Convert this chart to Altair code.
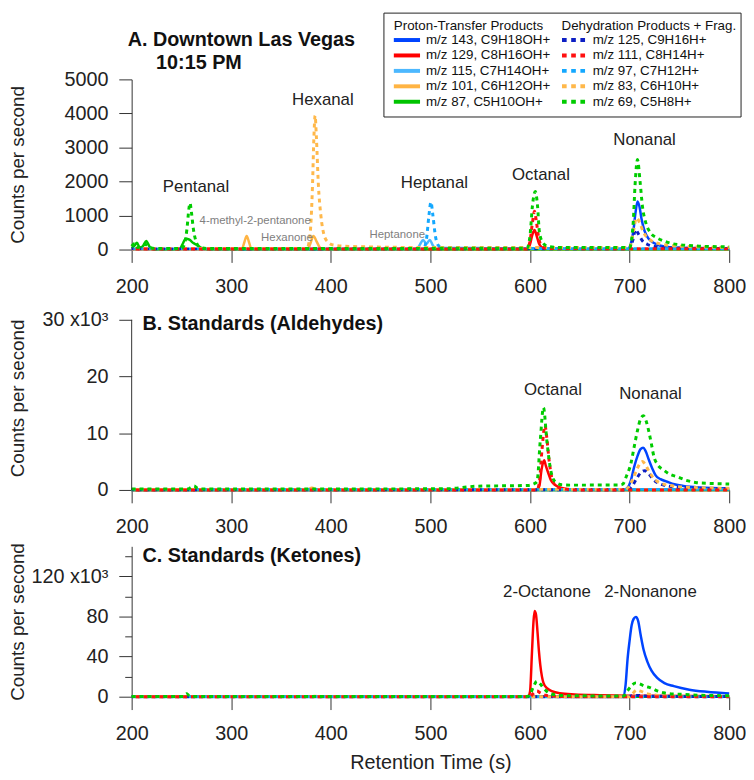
import altair as alt
import pandas as pd

FONT = "Liberation Sans"
AXIS_COLOR = "#333333"
TEXT_COLOR = "#222222"

X_TICKS = [200, 300, 400, 500, 600, 700, 800]
A_Y_TICKS = [0, 1000, 2000, 3000, 4000, 5000]
B_Y_TICKS = [0, 5000, 10000, 15000, 20000, 25000, 30000]
C_Y_TICKS = [0, 20000, 40000, 60000, 80000, 100000, 120000, 140000]

PT_NAMES = ["m/z 143, C9H18OH+", "m/z 129, C8H16OH+", "m/z 115, C7H14OH+",
            "m/z 101, C6H12OH+", "m/z 87, C5H10OH+"]
DH_NAMES = ["m/z 125, C9H16H+", "m/z 111, C8H14H+", "m/z 97, C7H12H+",
            "m/z 83, C6H10H+", "m/z 69, C5H8H+"]
PT_COLORS = ["#0044ff", "#ff0000", "#4cb8ff", "#ffb443", "#00c400"]
DH_COLORS = ["#0d1fc4", "#ff1010", "#14a8ff", "#ffb84a", "#00cc00"]

# ---------------- Panel A: Downtown Las Vegas (counts per second) ----------------
A_MZ143 = [(200, 0), (698, 0), (701, 150), (704, 600), (706, 1100), (708, 1415), (710, 1250),
           (712, 900), (715, 550), (719, 320), (724, 200), (730, 120), (740, 70), (760, 40), (800, 20)]
A_MZ129 = [(200, 0), (597, 0), (600, 150), (602.5, 450), (604.5, 572), (606.5, 420), (609, 180),
           (612, 60), (616, 10), (800, 0)]
A_MZ115 = [(200, 0), (486, 0), (489.5, 150), (492.7, 282), (496, 170), (499.3, 282), (502.5, 120),
           (506, 0), (800, 0)]
A_MZ101 = [(200, 0), (310.5, 0), (313, 200), (315.5, 397), (318, 200), (320.5, 0), (376.5, 0),
           (379.5, 180), (382.5, 397), (385.5, 250), (389, 60), (393, 0), (800, 0)]
A_MZ87 = [(200, 40), (203, 120), (205.3, 203), (208, 60), (211, 90), (214.6, 252), (218, 80),
          (222, 10), (248, 10), (251, 150), (254.3, 320), (258, 290), (262, 190), (265.9, 125),
          (270, 50), (276, 10), (800, 10)]
A_MZ125 = [(200, 20), (699, 20), (703, 250), (706, 590), (709, 450), (713, 250), (718, 150),
           (725, 90), (740, 50), (800, 30)]
A_MZ111 = [(200, 15), (597, 15), (600, 250), (602.5, 800), (604.5, 1124), (606.5, 800), (609, 300),
           (612, 100), (616, 30), (800, 20)]
A_MZ97 = [(200, 20), (493, 20), (496, 300), (498.5, 1000), (500.5, 1395), (502.5, 1000), (505, 400),
          (508, 120), (512, 40), (800, 20)]
A_MZ83 = [(200, 30), (376, 30), (379, 400), (381.5, 1800), (383, 3300), (384.2, 3934), (385.5, 3300),
          (387.5, 1900), (390, 1000), (393, 450), (397, 220), (403, 130), (420, 90), (500, 60),
          (700, 60), (703, 400), (707, 930), (710, 800), (714, 500), (720, 300), (730, 170),
          (750, 100), (800, 60)]
A_MZ69 = [(200, 100), (203, 180), (206, 60), (210, 100), (214, 150), (218, 60), (225, 30), (250, 30),
          (253, 150), (255.5, 600), (257.5, 1200), (258.6, 1366), (260, 1100), (262, 600),
          (264.5, 250), (268, 80), (275, 30), (597, 40), (600, 400), (602.5, 1300), (605.3, 1706),
          (607.5, 1300), (609.5, 500), (613, 200), (618, 90), (630, 60), (700, 60), (703.6, 785),
          (705.5, 1900), (707.9, 2645), (710.5, 2000), (712.9, 1270), (716.3, 785), (721, 494),
          (727, 350), (734.4, 252), (742, 180), (751, 140), (770, 100), (800, 80)]

# ---------------- Panel B: Standards (Aldehydes) ----------------
B_MZ143 = [(200, 0), (694, 0), (698, 400), (701, 1500), (704.6, 4070), (708, 6000), (711, 7200),
           (713.6, 7440), (716, 6900), (719.5, 5230), (723, 3700), (726, 2616), (731, 1900),
           (737.7, 1450), (745, 1000), (754, 700), (770, 450), (800, 300)]
B_MZ129 = [(200, 0), (607, 0), (609.5, 800), (611.5, 3500), (614.2, 5230), (616, 4200),
           (618.5, 2900), (621, 1700), (625.2, 870), (631.8, 350), (640, 120), (660, 0), (800, 0)]
B_MZ115 = [(200, 0), (800, 0)]
B_MZ101 = [(200, 0), (376, 0), (381, 400), (386, 0), (800, 0)]
B_MZ87 = [(200, 0), (800, 0)]
B_MZ125 = [(200, 50), (697, 50), (702, 500), (707, 2000), (711, 3000), (715.2, 3400), (719, 2900),
           (724, 1800), (730, 1100), (740, 650), (755, 400), (800, 200)]
B_MZ111 = [(200, 0), (607, 0), (609.5, 1500), (612, 7000), (615, 11340), (617, 9000), (619, 5500),
           (621.5, 2500), (625, 900), (631, 300), (645, 0), (800, 0)]
B_MZ97 = [(200, 100), (800, 100)]
B_MZ83 = [(200, 100), (695, 100), (699, 500), (703, 1800), (707, 3500), (710.5, 4700), (713, 5000),
          (716, 4400), (720, 3100), (725, 1900), (731, 1200), (740, 800), (755, 500), (780, 350),
          (800, 300)]
B_MZ69 = [(200, 170), (256, 170), (260, 500), (262.6, 700), (266, 300), (270, 170), (515, 200),
          (546, 650), (599, 800), (603, 1000), (607, 1450), (610.3, 8720), (613.5, 14530),
          (616.9, 8720), (620.2, 4070), (625.2, 1450), (632, 900), (640, 850), (690, 870),
          (693, 1000), (697, 2500), (701.3, 4650), (704.5, 7500), (707.9, 10460), (711, 12500),
          (713.9, 13080), (716.5, 12200), (719.5, 10170), (722, 8000), (724.5, 5810), (728, 4500),
          (734.4, 3490), (740, 2800), (747.6, 2325), (757, 1700), (767.5, 1280), (780, 1150),
          (797, 1060), (800, 1050)]

# ---------------- Panel C: Standards (Ketones) ----------------
C_MZ143 = [(200, 0), (694, 0), (696, 12000), (698, 38000), (700, 56000), (702, 71000), (704, 77500),
           (706.3, 79400), (708.5, 76000), (711.2, 61000), (714, 47000), (717.8, 35000),
           (722, 26000), (727.7, 18700), (735, 13500), (744.4, 10500), (760, 7000), (777.4, 4900),
           (800, 3300)]
C_MZ129 = [(200, 0), (598, 0), (600, 5000), (602, 45000), (603.5, 75000), (604.6, 85500),
           (606, 82000), (607.5, 65000), (609, 45000), (610.3, 31800), (612, 20000),
           (613.5, 13800), (617, 8500), (621.9, 5600), (630, 3500), (645, 2300), (670, 1500),
           (700, 1000), (800, 500)]
C_MZ115 = [(200, 0), (800, 0)]
C_MZ101 = [(200, 0), (380, 0), (384, 800), (388, 0), (800, 0)]
C_MZ87 = [(200, 0), (800, 0)]
C_MZ125 = [(200, 0), (697, 0), (703, 1000), (708, 1200), (715, 800), (730, 400), (800, 200)]
C_MZ111 = [(200, 0), (600, 0), (603, 3000), (607, 5600), (610, 4000), (614, 2000), (620, 800),
           (630, 300), (645, 0), (800, 0)]
C_MZ97 = [(200, 0), (800, 0)]
C_MZ83 = [(200, 0), (700, 0), (703, 3000), (707, 6500), (711, 5500), (716, 3500), (725, 1800),
          (740, 800), (800, 300)]
C_MZ69 = [(200, 300), (252, 300), (255, 3000), (258, 1000), (262, 300), (597, 300), (600, 2000),
          (603, 9000), (607, 15400), (610, 13000), (613.5, 8800), (618.5, 4000), (625, 2000),
          (640, 1000), (694, 700), (698, 6000), (702, 11000), (706.3, 13800), (710, 13000),
          (715, 10500), (721, 8900), (727.7, 5900), (734.4, 3900), (744, 2600), (754, 2300),
          (770, 1500), (800, 1000)]

# ---------------- Peak annotations ----------------
A_BIG_LABELS = ["Pentanal", "Hexanal", "Heptanal", "Octanal", "Nonanal"]
A_BIG_X = [264.6, 392, 504, 611, 715]
A_BIG_Y = [1831, 4390, 1948, 2180, 3227]
A_SMALL_LABELS = ["4-methyl-2-pentanone", "Hexanone", "Heptanone"]
A_SMALL_X = [324, 356, 466.7]
A_SMALL_Y = [843, 349, 436]
B_LABELS = ["Octanal", "Nonanal"]
B_X = [623, 721]
B_Y = [17616, 16919]
C_LABELS = ["2-Octanone", "2-Nonanone"]
C_X = [617, 721]
C_Y = [104300, 104300]

DUMMY = pd.DataFrame({"k": [0]})
PLOT_W = 604


def x_enc(title, label_pad=14):
    return alt.X("t:Q", scale=alt.Scale(domain=[200, 800], nice=False, zero=False),
                 axis=alt.Axis(values=X_TICKS, format="d", tickSize=13, labelPadding=label_pad,
                               labelFlush=False, labelOverlap=False, labelFontSize=20,
                               title=title, titleFontSize=20, titlePadding=10,
                               titleFontWeight="normal"))


def y_enc(domain, values, label_expr=None, tick_size=13, show_domain=True):
    kw = dict(values=values, tickSize=tick_size, labelPadding=11, labelFontSize=20,
              title="Counts per second", titleFontSize=19, titleFontWeight="normal",
              titleX=-105, domain=show_domain)
    if label_expr:
        kw["labelExpr"] = label_expr
    else:
        kw["format"] = "d"
    return alt.Y("c:Q", scale=alt.Scale(domain=domain, nice=False, zero=False),
                 axis=alt.Axis(**kw))


def curve_layers(curves, xe, ye):
    layers = []
    for name, color in zip(PT_NAMES, PT_COLORS):
        df = pd.DataFrame(curves[name], columns=["t", "c"])
        layers.append(alt.Chart(df).mark_line(color=color, strokeWidth=2.5,
                                              interpolate="monotone").encode(x=xe, y=ye))
    order = [(0, 2), (2, 6), (3, 4), (1, 4), (4, 0)]
    for idx, off in order:
        df = pd.DataFrame(curves[DH_NAMES[idx]], columns=["t", "c"])
        layers.append(alt.Chart(df).mark_line(color=DH_COLORS[idx], strokeWidth=3,
                                              strokeDash=[4, 4], strokeDashOffset=off,
                                              interpolate="monotone").encode(x=xe, y=ye))
    return layers


def label_layer(labels, xs, ys, xe, ye, size=17, color=TEXT_COLOR):
    df = pd.DataFrame({"t": xs, "c": ys, "label": labels})
    return alt.Chart(df).mark_text(fontSize=size, color=color, font=FONT).encode(
        x=xe, y=ye, text="label:N")


def fixed_text(text, x, y, size=20, weight="bold", align="left"):
    return alt.Chart(DUMMY).mark_text(text=text, fontSize=size, fontWeight=weight, align=align,
                                      baseline="middle", color="#111111", font=FONT).encode(
        x=alt.value(x), y=alt.value(y))


# ---- Panel A ----
xa = x_enc(None)
ya = y_enc([0, 5000], A_Y_TICKS)
curves_a = dict(zip(PT_NAMES + DH_NAMES,
                    [A_MZ143, A_MZ129, A_MZ115, A_MZ101, A_MZ87,
                     A_MZ125, A_MZ111, A_MZ97, A_MZ83, A_MZ69]))
a_layers = curve_layers(curves_a, xa, ya)
a_layers.append(label_layer(A_BIG_LABELS, A_BIG_X, A_BIG_Y, xa, ya))
a_layers.append(label_layer(A_SMALL_LABELS, A_SMALL_X, A_SMALL_Y, xa, ya, size=11.5,
                            color="#808080"))
a_layers.append(fixed_text("A. Downtown Las Vegas", -4, -40))
a_layers.append(fixed_text("10:15 PM", 24.7, -16.7))

# legend box
a_layers.append(alt.Chart(DUMMY).mark_rect(fill="white", stroke="#222222", strokeWidth=1).encode(
    x=alt.value(255), x2=alt.value(616), y=alt.value(-67), y2=alt.value(38)))
a_layers.append(fixed_text("Proton-Transfer Products", 265, -54.3, size=13.5, weight="normal"))
a_layers.append(fixed_text("Dehydration Products + Frag.", 434.5, -54.3, size=13.5, weight="normal"))
for i in range(5):
    ry = -39.8 + 15.6 * i
    a_layers.append(alt.Chart(DUMMY).mark_rule(color=PT_COLORS[i], strokeWidth=4).encode(
        x=alt.value(265), x2=alt.value(291.5), y=alt.value(ry)))
    a_layers.append(fixed_text(PT_NAMES[i], 297.5, ry, size=13.5, weight="normal"))
    a_layers.append(alt.Chart(DUMMY).mark_rule(color=DH_COLORS[i], strokeWidth=4,
                                               strokeDash=[4.7, 4.6]).encode(
        x=alt.value(435), x2=alt.value(458.3), y=alt.value(ry)))
    a_layers.append(fixed_text(DH_NAMES[i], 466, ry, size=13.5, weight="normal"))

panel_a = alt.layer(*a_layers).properties(width=PLOT_W, height=172)

# ---- Panel B ----
B_TOP = 30000 * 186 / 172
xb = x_enc(None)
yb = y_enc([0, B_TOP], B_Y_TICKS,
           label_expr="datum.value == 30000 ? '30 x10³' : (datum.value % 10000 == 0 ? format(datum.value / 1000, 'd') : '')",
           tick_size={"condition": {"test": "datum.value % 10000 != 0", "value": 7}, "value": 13},
           show_domain=False)
curves_b = dict(zip(PT_NAMES + DH_NAMES,
                    [B_MZ143, B_MZ129, B_MZ115, B_MZ101, B_MZ87,
                     B_MZ125, B_MZ111, B_MZ97, B_MZ83, B_MZ69]))
b_layers = curve_layers(curves_b, xb, yb)
b_layers.append(alt.Chart(DUMMY).mark_rule(color=AXIS_COLOR, strokeWidth=1).encode(
    x=alt.value(0), y=alt.datum(0), y2=alt.datum(30000)))
b_layers.append(label_layer(B_LABELS, B_X, B_Y, xb, yb))
b_layers.append(fixed_text("B. Standards (Aldehydes)", 11, 18))
panel_b = alt.layer(*b_layers).properties(width=PLOT_W, height=186)

# ---- Panel C ----
xc = x_enc("Retention Time (s)")
yc = y_enc([0, 150000], C_Y_TICKS,
           label_expr="datum.value == 120000 ? '120 x10³' : (datum.value % 40000 == 0 ? format(datum.value / 1000, 'd') : '')",
           tick_size={"condition": {"test": "datum.value % 40000 != 0", "value": 7}, "value": 13})
curves_c = dict(zip(PT_NAMES + DH_NAMES,
                    [C_MZ143, C_MZ129, C_MZ115, C_MZ101, C_MZ87,
                     C_MZ125, C_MZ111, C_MZ97, C_MZ83, C_MZ69]))
c_layers = curve_layers(curves_c, xc, yc)
c_layers.append(label_layer(C_LABELS, C_X, C_Y, xc, yc))
c_layers.append(fixed_text("C. Standards (Ketones)", 11, 10))
panel_c = alt.layer(*c_layers).properties(width=PLOT_W, height=152)

chart = alt.vconcat(panel_a, panel_b, panel_c, spacing=57, bounds="flush").properties(
    padding=0
).configure(font=FONT).configure_view(stroke=None).configure_axis(
    grid=False, domainColor=AXIS_COLOR, tickColor=AXIS_COLOR, labelColor=TEXT_COLOR,
    titleColor=TEXT_COLOR, labelFont=FONT, titleFont=FONT, domainWidth=1, tickWidth=1
)

chart.save("out.html", embed_options={"renderer": "svg", "actions": False})
